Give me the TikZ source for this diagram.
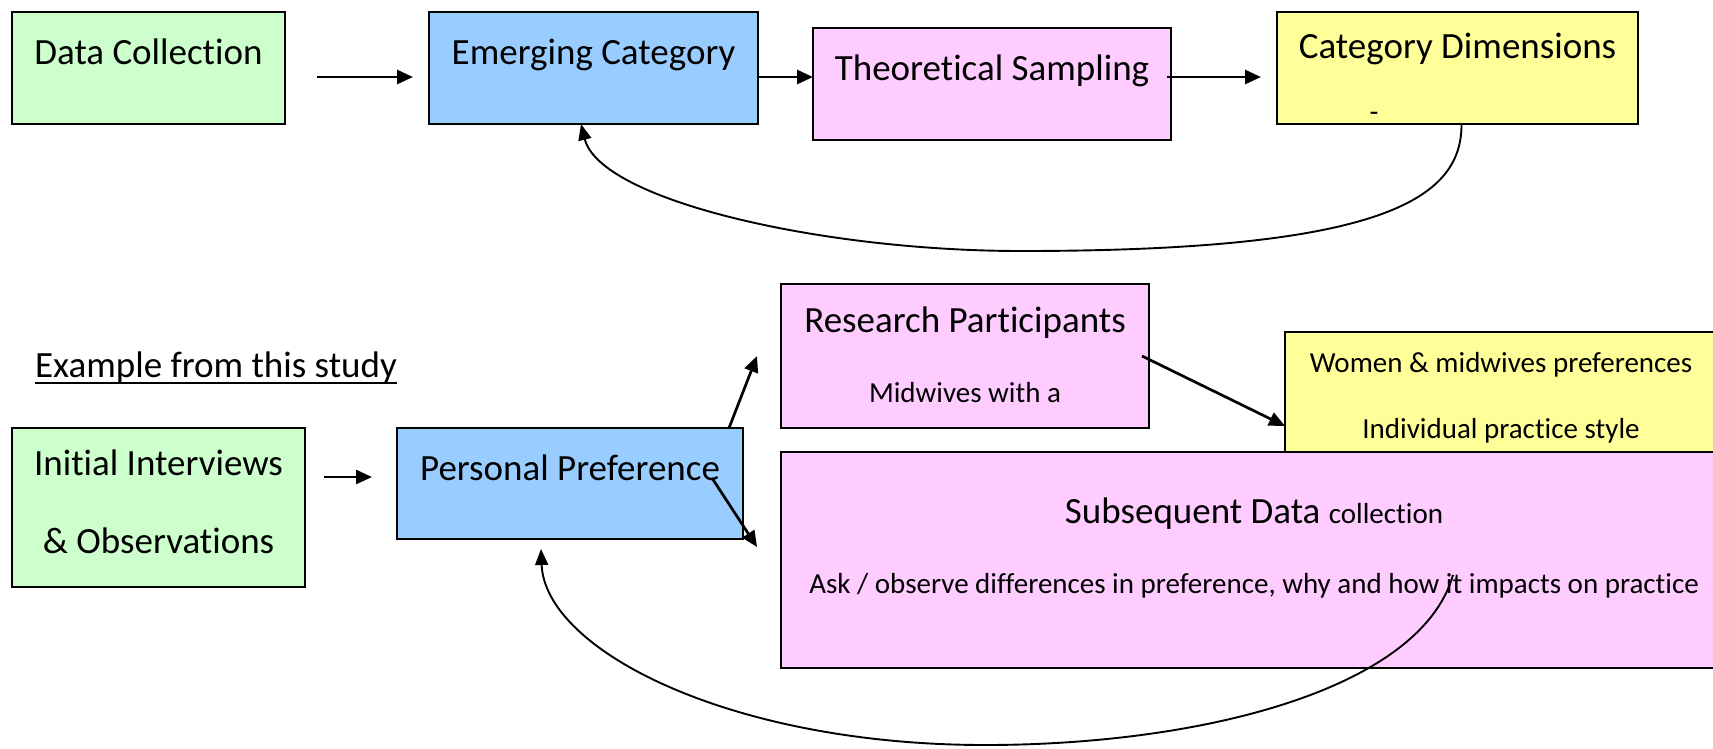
\documentclass[tikz,border=0pt]{standalone}
\usepackage{fontspec}
\setmainfont{Carlito}[Ligatures=NoCommon]
\usetikzlibrary{arrows.meta,calc}
\definecolor{cgreen}{HTML}{CCFFCC}
\definecolor{cblue}{HTML}{99CCFF}
\definecolor{cpink}{HTML}{FFCCFF}
\definecolor{cyellow}{HTML}{FFFF99}
\begin{document}
\begin{tikzpicture}[x=1pt,y=-1pt,
  box/.style={draw=black, line width=1.6pt, rectangle, inner sep=0pt, outer sep=0pt, anchor=north west},
  bigtext/.style={font=\fontsize{37}{44}\selectfont, inner sep=0pt, anchor=base},
  smalltext/.style={font=\fontsize{29}{35}\selectfont, inner sep=0pt, anchor=base},
  arr/.style={-{Triangle[length=16pt,width=14pt]}, line width=2.7pt},
  carr/.style={-{Triangle[length=16pt,width=13pt]}, line width=1.9pt}]
\useasboundingbox (0,0) rectangle (1713,748);
\clip (0,0) rectangle (1713,748);
\fill[white] (0,0) rectangle (1713,748);

% top row boxes
\node[box, fill=cgreen,  minimum width=273pt, minimum height=112pt] (dc) at (12,12) {};
\node[box, fill=cblue,   minimum width=329pt, minimum height=112pt] (ec) at (429,12) {};
\node[box, fill=cpink,   minimum width=358pt, minimum height=112pt] (ts) at (813,28) {};
\node[box, fill=cyellow, minimum width=361pt, minimum height=112pt] (cd) at (1277,12) {};

\node[bigtext] (t-dc) at (148.5,64) {Data Collection};
\node[bigtext] (t-ec) at (593.5,64) {Emerging Category};
\node[bigtext] (t-ts) at (992,80) {Theoretical Sampling};
\node[bigtext] (t-cd) at (1457.5,58) {Category Dimensions};
\node[smalltext] (t-dash) at (1374,121) {-};

\draw[arr] ([xshift=32pt,yshift=-9pt]dc.east) -- ([xshift=-16pt,yshift=-9pt]ec.west);
\draw[arr] ([yshift=-9pt]ec.east) -- ([yshift=7pt]ts.west);
\draw[arr] ([xshift=-4pt,yshift=7pt]ts.east) -- ([xshift=-16pt,yshift=-9pt]cd.west);
\draw[carr] ([xshift=4pt]cd.south) .. controls (1462,200) and (1380,251) .. (1021,251)
  .. controls (820,251) and (600,200) .. ([xshift=-12.5pt]ec.south);

% bottom part
\node[bigtext] (t-ex) at (216,377) {Example from this study};
\draw[line width=1.8pt] ([yshift=-6pt]t-ex.base west) -- ([yshift=-6pt]t-ex.base east);

\node[box, fill=cgreen,  minimum width=293pt, minimum height=159pt] (ii) at (12,428) {};
\node[box, fill=cblue,   minimum width=346pt, minimum height=111pt] (pp) at (397,428) {};
\node[box, fill=cpink,   minimum width=368pt, minimum height=144pt] (rp) at (781,284) {};
\node[box, fill=cyellow, minimum width=450pt, minimum height=130pt] (yw) at (1285,332) {};
\node[box, fill=cpink,   minimum width=960pt, minimum height=216pt] (sub) at (781,452) {};

\node[bigtext] (t-ii1) at (158.5,475) {Initial Interviews};
\node[bigtext] (t-ii2) at (158.5,553) {\& Observations};
\node[bigtext] (t-pp) at (570,480) {Personal Preference};
\node[bigtext] (t-rp) at (965,332) {Research Participants};
\node[smalltext] (t-rp2) at (965,402) {Midwives with a};
\node[smalltext] (t-yw1) at (1501,372) {Women \& midwives preferences};
\node[smalltext] (t-yw2) at (1501,438) {Individual practice style};
\node[bigtext] (t-sub1) at (1254,523) {Subsequent Data {\fontsize{29}{35}\selectfont collection}};
\node[smalltext] (t-sub2) at (1254,593) {Ask / observe differences in preference, why and how it impacts on practice};

\draw[arr] ([xshift=19pt,yshift=30.5pt]ii.east) -- ([xshift=-25pt,yshift=6.5pt]pp.west);
\draw[arr] ([xshift=-14pt]pp.north east) -- ([xshift=-24pt]rp.west);
\draw[arr] ([xshift=-31pt,yshift=5.5pt]pp.east) -- ([xshift=14pt,yshift=-8pt]pp.south east);
\draw[arr] ([xshift=-7pt]rp.east) -- ([yshift=-29pt]yw.west);

\coordinate (itdot) at (1453,575);
\draw[carr] (itdot) .. controls (1420,690) and (1200,745) .. (985,745)
  .. controls (730,745) and (545,650) .. ([xshift=-29pt,yshift=-10pt]pp.south);
\end{tikzpicture}
\end{document}
